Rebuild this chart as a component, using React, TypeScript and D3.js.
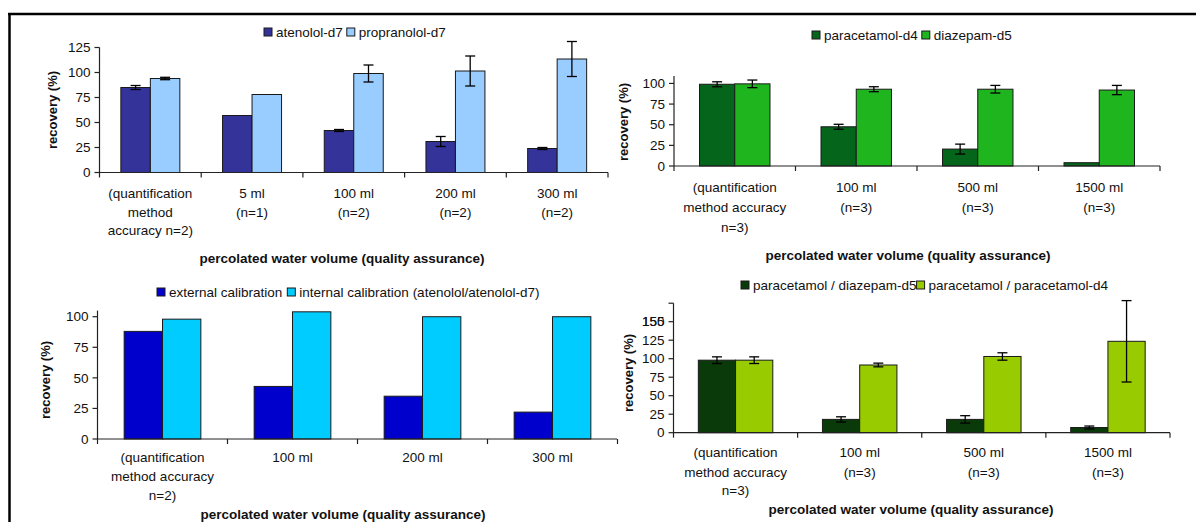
import React from "react";
import * as d3 from "d3";

const FONT = "'Liberation Sans', Arial, Helvetica, sans-serif";
const FS = 13.5;

// ---------- Panel 1 (top-left) ----------
const p1Categories = [
  ["(quantification", "method", "accuracy n=2)"],
  ["5 ml", "(n=1)"],
  ["100 ml", "(n=2)"],
  ["200 ml", "(n=2)"],
  ["300 ml", "(n=2)"],
];
const p1SeriesNames = ["atenolol-d7", "propranolol-d7"];
const p1Atenolol = [85, 57, 42, 31, 24];
const p1AtenololErr = [2, 0, 1, 5, 1];
const p1Propranolol = [94, 78, 99, 101.5, 113.5];
const p1PropranololErr = [1.2, 0, 8.5, 15, 17.5];
const p1Ticks = [0, 25, 50, 75, 100, 125];
const p1TickLabels = ["0", "25", "50", "75", "100", "125"];

// ---------- Panel 2 (top-right) ----------
const p2Categories = [
  ["(quantification", "method accuracy", "n=3)"],
  ["100 ml", "(n=3)"],
  ["500 ml", "(n=3)"],
  ["1500 ml", "(n=3)"],
];
const p2SeriesNames = ["paracetamol-d4", "diazepam-d5"];
const p2Paracetamol = [99, 47.5, 20.5, 4];
const p2ParacetamolErr = [3, 3, 6, 0];
const p2Diazepam = [99.5, 93, 93, 92];
const p2DiazepamErr = [4.6, 3, 4.6, 5.6];
const p2Ticks = [0, 25, 50, 75, 100];
const p2TickLabels = ["0", "25", "50", "75", "100"];

// ---------- Panel 3 (bottom-left) ----------
const p3Categories = [
  ["(quantification", "method accuracy", "n=2)"],
  ["100 ml"],
  ["200 ml"],
  ["300 ml"],
];
const p3SeriesNames = ["external calibration", "internal calibration (atenolol/atenolol-d7)"];
const p3External = [88, 43, 35, 22];
const p3Internal = [98, 104, 100, 100];
const p3Ticks = [0, 25, 50, 75, 100];
const p3TickLabels = ["0", "25", "50", "75", "100"];

// ---------- Panel 4 (bottom-right) ----------
const p4Categories = [
  ["(quantification", "method accuracy", "n=3)"],
  ["100 ml", "(n=3)"],
  ["500 ml", "(n=3)"],
  ["1500 ml", "(n=3)"],
];
const p4SeriesNames = ["paracetamol / diazepam-d5", "paracetamol / paracetamol-d4"];
const p4Diazepam = [98, 18, 18, 7];
const p4DiazepamErr = [4.5, 3.5, 5, 2];
const p4Paracetamol = [98, 91.5, 103, 123.5];
const p4ParacetamolErr = [4.5, 2.5, 5, 55];
const p4Ticks = [0, 25, 50, 75, 100, 125, 150, 175];
const p4TickLabels = ["0", "25", "50", "75", "100", "125", "150", ""];
const p4OverlapLabel = "155";

const AXIS_TITLE = "recovery (%)";
const X_TITLE = "percolated water volume (quality assurance)";

let _ctx: CanvasRenderingContext2D | null = null;
function measure(text: string, size = FS, weight = "normal") {
  if (!_ctx) _ctx = document.createElement("canvas").getContext("2d");
  if (!_ctx) return text.length * size * 0.55;
  _ctx.font = `${weight} ${size}px 'Liberation Sans', Arial, sans-serif`;
  return _ctx.measureText(text).width;
}

type Series = { name: string; values: number[]; errs?: number[]; color: string };

type PanelProps = {
  categories: string[][];
  series: Series[];
  ticks: number[];
  tickLabels: string[];
  domainMax: number;
  x0: number;
  x1: number;
  axisEnd: number;
  yBase: number;
  yTop: number;
  groupFrac: number;
  legendX: number;
  legendY: number;
  legendGap: number;
  ylabelX: number;
  ylabelY: number;
  catLineY: number[];
  titleX: number;
  titleY: number;
  extraLabel?: { value: number; text: string };
};

function Panel(p: PanelProps) {
  const n = p.categories.length;
  const xCat = d3
    .scaleBand<number>()
    .domain(d3.range(n))
    .range([p.x0, p.x1])
    .padding(0);
  const bw = xCat.bandwidth();
  const groupW = bw * p.groupFrac;
  const xSub = d3
    .scaleBand<number>()
    .domain(d3.range(p.series.length))
    .range([(bw - groupW) / 2, (bw + groupW) / 2])
    .padding(0);
  const y = d3.scaleLinear().domain([0, p.domainMax]).range([p.yBase, p.yTop]);
  const axisColor = "#222";

  const legendItems: { x: number; tx: number; s: Series }[] = [];
  let lx = p.legendX;
  p.series.forEach((s) => {
    legendItems.push({ x: lx, tx: lx + 12, s });
    lx = lx + 12 + measure(s.name) + p.legendGap;
  });

  return (
    <g>
      {p.series.map((s, si) =>
        s.values.map((v, ci) => {
          const bx = (xCat(ci) as number) + (xSub(si) as number);
          return (
            <rect
              key={`b${si}-${ci}`}
              x={bx}
              y={y(v)}
              width={xSub.bandwidth()}
              height={p.yBase - y(v)}
              fill={s.color}
              stroke="#1a1a1a"
              strokeWidth={1}
            />
          );
        })
      )}
      {p.series.map((s, si) =>
        (s.errs || []).map((e, ci) => {
          if (!e) return null;
          const cx = (xCat(ci) as number) + (xSub(si) as number) + xSub.bandwidth() / 2;
          const v = s.values[ci];
          const yt = y(v + e);
          const yb = y(Math.max(0, v - e));
          return (
            <g key={`e${si}-${ci}`} stroke="#000" strokeWidth={1.3}>
              <line x1={cx} x2={cx} y1={yt} y2={yb} />
              <line x1={cx - 5} x2={cx + 5} y1={yt} y2={yt} />
              <line x1={cx - 5} x2={cx + 5} y1={yb} y2={yb} />
            </g>
          );
        })
      )}
      <line x1={p.x0} x2={p.x0} y1={p.yTop} y2={p.yBase + 5} stroke={axisColor} strokeWidth={1.2} />
      {p.ticks.map((t, i) => (
        <g key={`yt${i}`}>
          <line x1={p.x0 - 5} x2={p.x0} y1={y(t)} y2={y(t)} stroke={axisColor} strokeWidth={1.2} />
          <text x={p.x0 - 9} y={y(t) + 4.7} textAnchor="end" fontFamily={FONT} fontSize={FS} fill="#111">
            {p.tickLabels[i]}
          </text>
        </g>
      ))}
      {p.extraLabel && (
        <text
          x={p.x0 - 9}
          y={y(p.extraLabel.value) + 4.7}
          textAnchor="end"
          fontFamily={FONT}
          fontSize={FS}
          fill="#111"
        >
          {p.extraLabel.text}
        </text>
      )}
      <line x1={p.x0} x2={p.axisEnd} y1={p.yBase} y2={p.yBase} stroke={axisColor} strokeWidth={1.2} />
      {d3.range(1, n + 1).map((i) => {
        const tx = p.x0 + i * bw;
        if (tx > p.axisEnd + 0.5) return null;
        return (
          <line key={`xt${i}`} x1={tx} x2={tx} y1={p.yBase} y2={p.yBase + 5} stroke={axisColor} strokeWidth={1.2} />
        );
      })}
      {p.categories.map((lines, ci) => (
        <text key={`cl${ci}`} textAnchor="middle" fontFamily={FONT} fontSize={FS} fill="#111">
          {lines.map((l, li) => (
            <tspan key={li} x={(xCat(ci) as number) + bw / 2} y={p.catLineY[li]}>
              {l}
            </tspan>
          ))}
        </text>
      ))}
      <text
        transform={`translate(${p.ylabelX},${p.ylabelY}) rotate(-90)`}
        textAnchor="middle"
        dominantBaseline="central"
        fontFamily={FONT}
        fontSize={13}
        fontWeight="bold"
        fill="#111"
      >
        {AXIS_TITLE}
      </text>
      <text
        x={p.titleX}
        y={p.titleY}
        textAnchor="middle"
        fontFamily={FONT}
        fontSize={FS}
        fontWeight="bold"
        fill="#111"
      >
        {X_TITLE}
      </text>
      {legendItems.map((it, i) => (
        <g key={`lg${i}`}>
          <rect x={it.x} y={p.legendY - 4} width={8} height={8} fill={it.s.color} stroke="#1a1a1a" strokeWidth={1} />
          <text x={it.tx} y={p.legendY + 4.7} fontFamily={FONT} fontSize={FS} fill="#111">
            {it.s.name}
          </text>
        </g>
      ))}
    </g>
  );
}

export default function App() {
  return (
    <svg
      width={1196}
      height={522}
      viewBox="0 0 1196 522"
      style={{ position: "absolute", left: 0, top: 0, display: "block", background: "#fff" }}
    >
      <rect x={0} y={0} width={1196} height={522} fill="#fff" />
      <line x1={8} x2={1196} y1={14} y2={14} stroke="#000" strokeWidth={2.5} />
      <line x1={9.5} x2={9.5} y1={13} y2={522} stroke="#000" strokeWidth={2.5} />

      <Panel
        categories={p1Categories}
        series={[
          { name: p1SeriesNames[0], values: p1Atenolol, errs: p1AtenololErr, color: "#333399" },
          { name: p1SeriesNames[1], values: p1Propranolol, errs: p1PropranololErr, color: "#99CCFF" },
        ]}
        ticks={p1Ticks}
        tickLabels={p1TickLabels}
        domainMax={125}
        x0={99.5}
        x1={608}
        axisEnd={608}
        yBase={172.5}
        yTop={47.5}
        groupFrac={0.58}
        legendX={264}
        legendY={32}
        legendGap={4}
        ylabelX={52}
        ylabelY={110}
        catLineY={[197.5, 216.5, 235]}
        titleX={342}
        titleY={262.5}
      />
      <Panel
        categories={p2Categories}
        series={[
          { name: p2SeriesNames[0], values: p2Paracetamol, errs: p2ParacetamolErr, color: "#05651A" },
          { name: p2SeriesNames[1], values: p2Diazepam, errs: p2DiazepamErr, color: "#1FB51F" },
        ]}
        ticks={p2Ticks}
        tickLabels={p2TickLabels}
        domainMax={109}
        x0={674}
        x1={1160}
        axisEnd={1160}
        yBase={166}
        yTop={76}
        groupFrac={0.58}
        legendX={812}
        legendY={35}
        legendGap={4}
        ylabelX={623}
        ylabelY={122}
        catLineY={[191.5, 211.5, 231.5]}
        titleX={908}
        titleY={259.5}
      />
      <Panel
        categories={p3Categories}
        series={[
          { name: p3SeriesNames[0], values: p3External, color: "#0000CC" },
          { name: p3SeriesNames[1], values: p3Internal, color: "#00CCFF" },
        ]}
        ticks={p3Ticks}
        tickLabels={p3TickLabels}
        domainMax={105}
        x0={97.5}
        x1={617.5}
        axisEnd={617}
        yBase={439}
        yTop={310.6}
        groupFrac={0.59}
        legendX={157}
        legendY={292}
        legendGap={5}
        ylabelX={45}
        ylabelY={380}
        catLineY={[462, 481, 500]}
        titleX={343}
        titleY={518.5}
      />
      <Panel
        categories={p4Categories}
        series={[
          { name: p4SeriesNames[0], values: p4Diazepam, errs: p4DiazepamErr, color: "#0A3A0A" },
          { name: p4SeriesNames[1], values: p4Paracetamol, errs: p4ParacetamolErr, color: "#99CC00" },
        ]}
        ticks={p4Ticks}
        tickLabels={p4TickLabels}
        domainMax={175}
        x0={673.5}
        x1={1170}
        axisEnd={1170}
        yBase={432.7}
        yTop={303.2}
        groupFrac={0.6}
        legendX={741}
        legendY={285}
        legendGap={0}
        ylabelX={628}
        ylabelY={373}
        catLineY={[457, 476.5, 495]}
        titleX={911}
        titleY={514}
        extraLabel={{ value: 150, text: p4OverlapLabel }}
      />
    </svg>
  );
}
